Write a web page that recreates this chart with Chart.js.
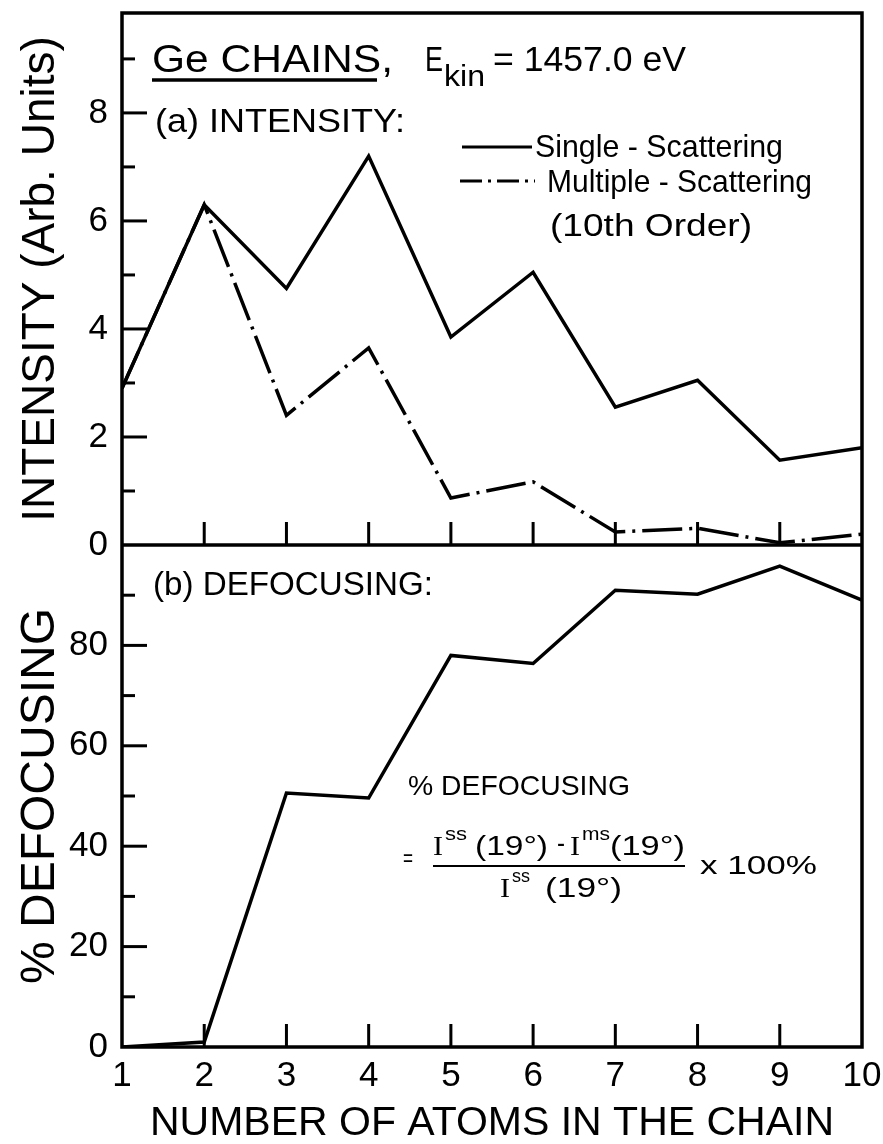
<!DOCTYPE html>
<html>
<head>
<meta charset="utf-8">
<script src="https://cdn.jsdelivr.net/npm/chart.js@4.4.1/dist/chart.umd.min.js"></script>
<style>
  body { margin: 0; background: #fff; }
  #wrap { width: 883px; height: 1144px; }
</style>
</head>
<body>
<div id="wrap"><canvas id="chart" width="883" height="1144"></canvas></div>
<script>
// values
const atoms = [1, 2, 3, 4, 5, 6, 7, 8, 9, 10];
const singleScattering = [2.9, 6.3, 4.75, 7.2, 3.85, 5.05, 2.55, 3.05, 1.57, 1.8];
const multipleScattering = [2.9, 6.3, 2.4, 3.65, 0.87, 1.17, 0.24, 0.31, 0.04, 0.2];
const defocusing = [0, 1, 50.6, 49.6, 78, 76.4, 91, 90.2, 95.8, 89];

const intensityTicks = [0, 2, 4, 6, 8];
const defocusTicks = [0, 20, 40, 60, 80];

const FONT = 'Liberation Sans';
Chart.defaults.font.family = FONT;
Chart.defaults.color = '#000';

function pts(ys) {
    return atoms.map(function (a, i) { return { x: a, y: ys[i] }; });
}

// keep the plot box where it is in the figure, no extra room for labels
function noPad(scale) {
    scale.paddingTop = 0;
    scale.paddingBottom = 0;
    scale.paddingLeft = 0;
    scale.paddingRight = 0;
}

// draw text squeezed/stretched to the width it has in the figure
function fitText(ctx, text, left, right, baseline, size, family) {
    ctx.font = size + 'px "' + (family || FONT) + '"';
    const w = ctx.measureText(text).width;
    ctx.save();
    ctx.translate(left, baseline);
    ctx.scale((right - left) / w, 1);
    ctx.fillText(text, 0, 0);
    ctx.restore();
}

function line(ctx, x1, y1, x2, y2) {
    ctx.beginPath();
    ctx.moveTo(x1, y1);
    ctx.lineTo(x2, y2);
    ctx.stroke();
}

const framePlugin = {
    id: 'frame',
    afterDraw(chart) {
        const ctx = chart.ctx;
        const a = chart.chartArea;
        const x = chart.scales.x;
        const yI = chart.scales.intensity;
        const yD = chart.scales.defocus;
        ctx.save();
        ctx.strokeStyle = '#000';
        ctx.fillStyle = '#000';
        ctx.lineCap = 'butt';

        // box + middle axis
        ctx.lineWidth = 3.5;
        ctx.strokeRect(a.left, a.top, a.right - a.left, a.bottom - a.top);
        line(ctx, a.left, yI.bottom, a.right, yI.bottom);

        // inward ticks on left axis
        ctx.lineWidth = 3;
        for (let v = 1; v <= 9; v++) {
            const len = intensityTicks.includes(v) ? 25 : 13;
            const py = yI.getPixelForValue(v);
            line(ctx, a.left, py, a.left + len, py);
        }
        for (let v = 10; v <= 90; v += 10) {
            const len = defocusTicks.includes(v) ? 25 : 13;
            const py = yD.getPixelForValue(v);
            line(ctx, a.left, py, a.left + len, py);
        }
        // ticks pointing up from both horizontal axes
        for (let v = 2; v <= 9; v++) {
            const px = x.getPixelForValue(v);
            line(ctx, px, yI.bottom, px, yI.bottom - 23);
            line(ctx, px, yD.bottom, px, yD.bottom - 23);
        }

        // panel (a) labels
        ctx.textAlign = 'left';
        ctx.textBaseline = 'alphabetic';
        fitText(ctx, 'Ge CHAINS,', 152, 393, 72, 38);
        ctx.lineWidth = 3.5;
        line(ctx, 152, 80, 377, 80);
        fitText(ctx, 'E', 425, 443, 71, 35);
        fitText(ctx, 'kin', 444, 485, 86, 30);
        fitText(ctx, '= 1457.0 eV', 493, 686, 71, 35);
        fitText(ctx, '(a) INTENSITY:', 155, 405, 132, 34);

        // legend
        ctx.lineWidth = 3;
        line(ctx, 462, 147, 532, 147);
        fitText(ctx, 'Single - Scattering', 535, 783, 157, 32);
        ctx.setLineDash([22, 6, 3, 6]);
        line(ctx, 460, 181, 535, 181);
        ctx.setLineDash([]);
        fitText(ctx, 'Multiple - Scattering', 547, 812, 192, 32);
        fitText(ctx, '(10th Order)', 550, 752, 236, 32);

        // panel (b) labels
        fitText(ctx, '(b) DEFOCUSING:', 153, 433, 595, 34);
        fitText(ctx, '% DEFOCUSING', 408, 630, 795, 28);

        // formula
        fitText(ctx, '=', 403, 413, 866, 24);
        fitText(ctx, 'I', 433, 443, 855, 28, 'Liberation Serif');
        fitText(ctx, 'ss', 445, 467, 840, 18);
        fitText(ctx, '(19\u00b0)', 475, 548, 855, 28);
        fitText(ctx, '-', 557, 565, 852, 28);
        fitText(ctx, 'I', 570, 580, 855, 28, 'Liberation Serif');
        fitText(ctx, 'ms', 582, 610, 840, 18);
        fitText(ctx, '(19\u00b0)', 610, 685, 855, 28);
        ctx.lineWidth = 2;
        line(ctx, 433, 866, 685, 866);
        fitText(ctx, 'I', 500, 510, 897, 28, 'Liberation Serif');
        fitText(ctx, 'ss', 512, 530, 882, 18);
        fitText(ctx, '(19\u00b0)', 545, 622, 897, 28);
        fitText(ctx, 'x 100%', 700, 817, 874, 26);

        ctx.restore();
    }
};

new Chart(document.getElementById('chart'), {
    type: 'line',
    data: {
        datasets: [
            {
                label: 'Single-Scattering',
                data: pts(singleScattering),
                yAxisID: 'intensity',
                borderColor: '#000',
                borderWidth: 3.5,
                pointRadius: 0,
                tension: 0
            },
            {
                label: 'Multiple-Scattering (10th Order)',
                data: pts(multipleScattering),
                yAxisID: 'intensity',
                borderColor: '#000',
                borderWidth: 3.5,
                borderDash: [40, 7, 3, 7],
                pointRadius: 0,
                tension: 0
            },
            {
                label: '% Defocusing',
                data: pts(defocusing),
                yAxisID: 'defocus',
                borderColor: '#000',
                borderWidth: 3.5,
                pointRadius: 0,
                tension: 0
            }
        ]
    },
    options: {
        responsive: false,
        animation: false,
        devicePixelRatio: 1,
        layout: { padding: { top: 13, right: 21, left: 0, bottom: 0 } },
        plugins: { legend: { display: false }, tooltip: { enabled: false } },
        scales: {
            x: {
                type: 'linear',
                min: 1,
                max: 10,
                grid: { display: false, drawTicks: false },
                border: { display: false },
                ticks: { stepSize: 1, padding: 8, font: { size: 35 }, color: '#000' },
                title: {
                    display: true,
                    text: 'NUMBER OF ATOMS IN THE CHAIN',
                    font: { size: 41, lineHeight: 1 },
                    color: '#000',
                    padding: { top: 0, bottom: 0 }
                },
                afterFit(scale) { scale.height = 97; noPad(scale); }
            },
            // bottom panel listed first so the stack puts it underneath
            defocus: {
                type: 'linear',
                position: 'left',
                stack: 'panels',
                stackWeight: 502,
                min: 0,
                max: 100,
                grid: { display: false, drawTicks: false },
                border: { display: false },
                ticks: {
                    stepSize: 20,
                    padding: 14,
                    font: { size: 35 },
                    color: '#000',
                    callback: function (v) { return defocusTicks.includes(v) ? String(v) : ''; }
                },
                title: {
                    display: true,
                    text: '% DEFOCUSING',
                    font: { size: 48, lineHeight: 1 },
                    color: '#000',
                    padding: { top: 17, bottom: 0 }
                },
                afterFit(scale) { scale.width = 122; noPad(scale); }
            },
            intensity: {
                type: 'linear',
                position: 'left',
                stack: 'panels',
                stackWeight: 532,
                min: 0,
                max: 9.85,
                grid: { display: false, drawTicks: false },
                border: { display: false },
                ticks: {
                    stepSize: 2,
                    padding: 14,
                    font: { size: 35 },
                    color: '#000',
                    callback: function (v) { return intensityTicks.includes(v) ? String(v) : ''; }
                },
                title: {
                    display: true,
                    text: 'INTENSITY (Arb. Units)',
                    font: { size: 46, lineHeight: 1 },
                    color: '#000',
                    padding: { top: 18, bottom: 0 }
                },
                afterFit(scale) { scale.width = 122; noPad(scale); }
            }
        }
    },
    plugins: [framePlugin]
});
</script>
</body>
</html>
